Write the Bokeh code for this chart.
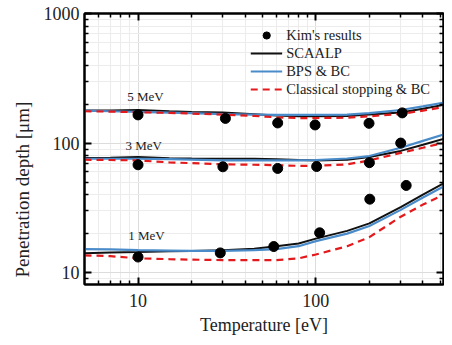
from bokeh.plotting import figure
from bokeh.models import (FixedTicker, NumeralTickFormatter, LogAxis, Legend,
                          LegendItem, Label, Title)
from bokeh.embed import file_html
from bokeh.resources import INLINE

# ---- data ----
T = [5, 7, 10, 15, 20, 30, 45, 60, 80, 100, 150, 200, 300, 400, 530]

scaalp_5 = [178, 178, 180, 176, 174, 172, 167, 163, 161, 161, 162, 166, 172, 184, 198]
bps_5 = [178, 176, 174, 172, 170, 167, 166, 165, 165, 165, 166, 170, 180, 192, 206]
cls_5 = [176, 175, 173, 171, 169, 166, 162, 158, 156, 156, 157, 161, 168, 178, 190]

scaalp_3 = [76.7, 77, 78, 76.5, 76, 75.7, 75.7, 75, 74, 73.5, 74.5, 78, 87, 97, 108.5]
bps_3 = [75.7, 75.7, 75.7, 75.2, 74.5, 73.5, 73.5, 73.5, 73.5, 74, 76, 79.4, 92, 104, 117]
cls_3 = [74.4, 74, 73.5, 71, 70, 68.6, 68, 67.5, 66.7, 66.7, 68.5, 73.5, 84, 92, 101]

scaalp_1 = [14.1, 14.3, 14.4, 14.6, 14.7, 14.9, 15.3, 16, 16.8, 18.3, 21, 24, 32, 40, 49.4]
bps_1 = [15.2, 15.1, 14.9, 14.8, 14.7, 14.7, 14.9, 15.2, 16, 17.5, 20, 22.9, 30.5, 38, 46.7]
cls_1 = [13.6, 13.4, 12.9, 12.7, 12.6, 12.5, 12.5, 12.5, 12.9, 13.8, 16, 18.8, 27, 33.5, 40.3]

kim_T_5 = [10, 31, 61, 99, 199, 306]
kim_5 = [165, 155, 143, 138, 142, 171]
kim_T_3 = [10, 30, 61, 101, 200, 300]
kim_3 = [68, 65.6, 63.7, 65.9, 70.6, 100]
kim_T_1 = [10, 29, 58, 105, 201, 322]
kim_1 = [13.2, 14.2, 15.9, 20.3, 36.9, 47.1]

x_major = [10, 100]
y_major = [10, 100, 1000]
x_minor = [6, 7, 8, 9, 20, 30, 40, 50, 60, 70, 80, 90, 200, 300, 400, 500]
y_minor = [9, 20, 30, 40, 50, 60, 70, 80, 90, 200, 300, 400, 500, 600, 700, 800, 900]

energy_labels = ["5 MeV", "3 MeV", "1 MeV"]
energy_label_pos = [(8.7, 230), (8.5, 96.6), (8.8, 19.4)]

legend_labels = ["Kim's results", "SCAALP", "BPS & BC", "Classical stopping & BC"]
x_title = "Temperature [eV]"
y_title = "Penetration depth [μm]"

BLACK = "#111111"
BLUE = "#4a8bc9"
RED = "#e3191c"
FONT = "Liberation Serif"

p = figure(width=444, height=337, x_axis_type="log", y_axis_type="log",
           x_range=(5, 522), y_range=(8.1, 1000),
           output_backend="svg", toolbar_location=None,
           min_border_left=84, min_border_right=1, min_border_top=13,
           min_border_bottom=49)

p.outline_line_color = "black"
p.outline_line_width = 2

xt = FixedTicker(ticks=x_major, minor_ticks=x_minor)
yt = FixedTicker(ticks=y_major, minor_ticks=y_minor)

for ax, tk in ((p.xaxis[0], xt), (p.yaxis[0], yt)):
    ax.ticker = tk
    ax.formatter = NumeralTickFormatter(format="0")
    ax.major_tick_in = 7
    ax.major_tick_out = 0
    ax.minor_tick_in = 4
    ax.minor_tick_out = 0
    ax.axis_line_width = 2
    ax.major_tick_line_width = 2
    ax.minor_tick_line_width = 1.5
    ax.major_label_text_font = FONT
    ax.major_label_text_font_size = "18px"
    ax.major_label_text_color = "#222222"
    ax.axis_label_text_font = FONT
    ax.axis_label_text_font_size = "18px"
    ax.axis_label_text_font_style = "normal"
    ax.axis_label_text_color = "#222222"

p.xaxis.axis_label = x_title
p.xaxis.major_label_standoff = 9
p.yaxis.major_label_standoff = 5
p.xaxis.axis_label_standoff = 5

# y title as a side title, shifted toward the bottom like the reference
yt_title = Title(text=y_title, align="left", offset=7, standoff=16,
                 text_font=FONT, text_font_size="19px",
                 text_font_style="normal", text_color="#222222")
p.add_layout(yt_title, "left")

# mirrored axes with inward ticks
for loc, tk in (("above", xt), ("right", yt)):
    a = LogAxis(ticker=tk, major_label_text_font_size="1px",
                major_label_text_alpha=0,
                major_tick_in=7, major_tick_out=0, minor_tick_in=4,
                minor_tick_out=0, axis_line_width=2, major_tick_line_width=2,
                minor_tick_line_width=1.5, major_label_standoff=0)
    p.add_layout(a, loc)

for g in (p.xgrid[0], p.ygrid[0]):
    g.grid_line_color = "#dcdcdc"
    g.grid_line_width = 1
    g.minor_grid_line_color = "#ececec"
    g.minor_grid_line_width = 1

r_black = r_blue = r_red = r_kim = None
for s, b, c in ((scaalp_5, bps_5, cls_5), (scaalp_3, bps_3, cls_3), (scaalp_1, bps_1, cls_1)):
    r_black = p.line(T, s, line_color=BLACK, line_width=2)
    r_blue = p.line(T, b, line_color=BLUE, line_width=2.2)
    r_red = p.line(T, c, line_color=RED, line_width=2.2, line_dash="7 5")

for kx, ky in ((kim_T_5, kim_5), (kim_T_3, kim_3), (kim_T_1, kim_1)):
    r_kim = p.scatter(kx, ky, size=10, fill_color="black", line_color="black")

for txt, (lx, ly) in zip(energy_labels, energy_label_pos):
    p.add_layout(Label(x=lx, y=ly, text=txt, text_font=FONT, text_font_size="13px",
                       text_baseline="middle", text_color="#222222"))

legend = Legend(items=[LegendItem(label=legend_labels[0], renderers=[r_kim]),
                       LegendItem(label=legend_labels[1], renderers=[r_black]),
                       LegendItem(label=legend_labels[2], renderers=[r_blue]),
                       LegendItem(label=legend_labels[3], renderers=[r_red])],
                location="top_right")
legend.border_line_color = None
legend.background_fill_alpha = 0
legend.label_text_font = FONT
legend.label_text_font_size = "14.5px"
legend.label_text_color = "#222222"
legend.glyph_width = 32
legend.glyph_height = 18
legend.label_height = 18
legend.spacing = 0
legend.padding = 2
legend.margin = 13
legend.label_standoff = 4
p.add_layout(legend, "center")

open("out.html", "w").write(file_html(p, INLINE))
